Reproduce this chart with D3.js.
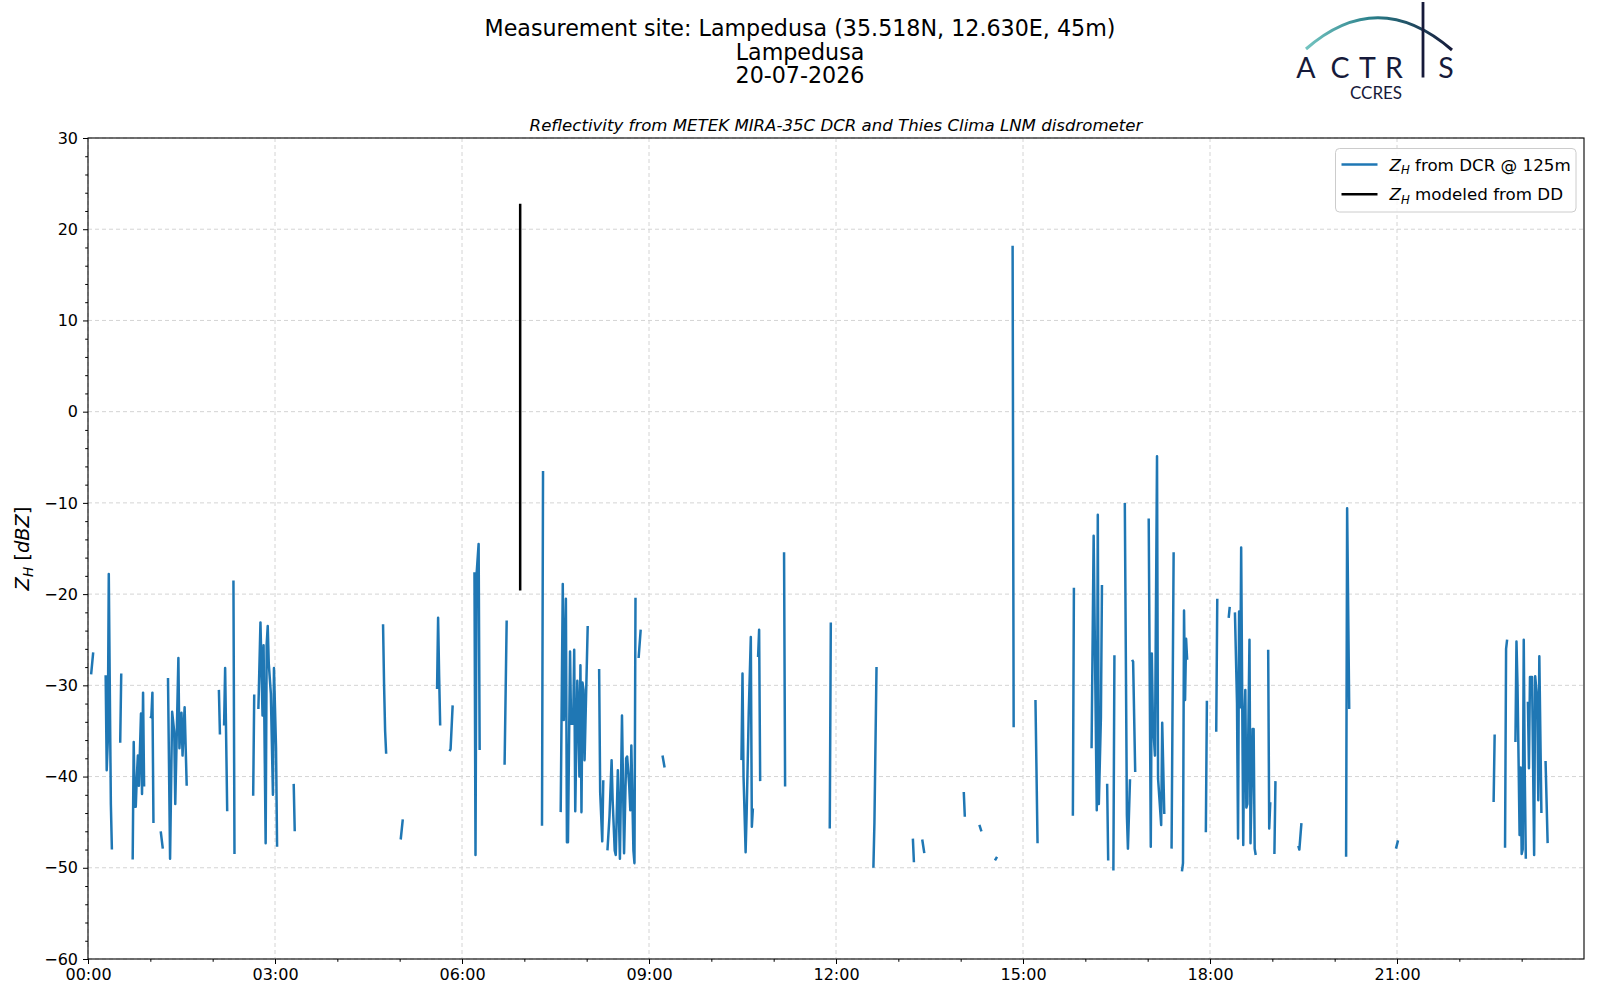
<!DOCTYPE html>
<html>
<head>
<meta charset="utf-8">
<script src="https://cdn.jsdelivr.net/npm/d3@7/dist/d3.min.js"></script>
<style>
  body { margin: 0; background: #fff; }
  svg text { font-family: "DejaVu Sans", sans-serif; fill: #000; }
  .grid line { stroke: #d4d4d4; stroke-width: 1; stroke-dasharray: 4,3; }
  .axis path, .axis line { stroke: #000; }
</style>
</head>
<body>
<div id="chart"></div>
<script>
// DCR reflectivity at 125 m: minutes after midnight, null splits the record into pieces
const dcrTime = [
  3, 5, null,
  17, 18, 19, 20, 22, 23, null,
  31, 32, null,
  43, 44, 45, 46, 47, 48, 49, 51, 52, 53, 54, null,
  60, 61, 62, 63, null,
  70, 72, null,
  77, 79, 81, 83, 84, 87, 88, 90, 91, 93, 95, null,
  126, 127, null,
  131, 132, 134, null,
  140, 141, null,
  159, 160, null,
  164, 166, 168, 169, 171, 172, 173, 174, 176, 178, 179, 181, 182, null,
  198, 199, null,
  284, 285, 286, 287, null,
  301, 303, null,
  336, 337, 338, 339, null,
  348, 349, 351, null,
  372, 373, 374, 376, 377, null,
  401, 403, null,
  437, 438, null,
  455, 457, 458, 460, 461, 462, 464, 465, 467, 468, 469, 471, 472, 473, 474, 475, 476, 477, 478, 481, null,
  492, 493, 495, 496, null,
  500, 502, 504, 505, 507, 508, 510, 512, 514, 516, 518, 519, 521, 522, 523, 525, 526, 527, null,
  530, 532, null,
  553, 555, null,
  629, 630, 631, 633, 634, 636, 638, 639, 640, null,
  645, 646, 647, null,
  670, 671, null,
  714, 715, null,
  756, 757, 759, null,
  794, 795, null,
  803, 805, null,
  843, 844, null,
  858, 860, null,
  873, 875, null,
  890, 891, null,
  912, 914, null,
  948, 949, null,
  966, 968, 971, 972, 973, 975, 976, null,
  981, 982, null,
  987, 988, null,
  998, 1000, 1001, 1003, null,
  1005, 1006, 1008, null,
  1021, 1023, 1024, 1025, 1027, 1029, 1030, 1033, 1034, 1036, null,
  1043, 1045, null,
  1053, 1054, 1055, 1056, 1057, 1058, null,
  1076, 1077, null,
  1086, 1087, null,
  1098, 1099, null,
  1104, 1106, 1107, 1108, 1109, 1110, 1112, 1113, 1114, 1115, 1116, 1118, 1119, 1120, 1121, 1122, 1123, 1124, null,
  1136, 1137, 1138, null,
  1142, 1143, null,
  1165, 1166, 1168, null,
  1211, 1212, 1214, null,
  1259, 1261, null,
  1353, 1354, null,
  1364, 1365, 1366, null,
  1374, 1375, 1376, 1377, 1378, 1379, 1380, 1381, 1382, 1383, 1384, null,
  1386, 1387, 1388, 1390, 1392, 1393, 1395, 1396, 1397, 1399, null,
  1403, 1405
];
const dcrZh = [
  -28.8, -26.4, null,
  -28.9, -39.3, -36.3, -17.8, -43.0, -48.0, null,
  -36.3, -28.7, null,
  -49.1, -36.2, -43.3, -43.3, -40.0, -37.7, -41.0, -33.1, -41.9, -30.8, -41.1, null,
  -33.6, -33.4, -30.8, -45.1, null,
  -46.0, -47.9, null,
  -29.2, -49.0, -32.9, -35.1, -43.0, -27.0, -36.9, -33.0, -37.7, -32.4, -41.0, null,
  -30.5, -35.4, null,
  -34.4, -28.1, -43.8, null,
  -18.5, -48.5, null,
  -42.1, -31.0, null,
  -32.6, -23.1, -33.3, -25.6, -47.3, -25.5, -23.5, -27.6, -30.9, -42.0, -28.1, -36.9, -47.7, null,
  -40.8, -46.0, null,
  -23.3, -30.0, -35.0, -37.5, null,
  -46.9, -44.7, null,
  -30.4, -22.6, -29.0, -34.4, null,
  -37.2, -37.0, -32.2, null,
  -17.6, -48.6, -17.9, -14.5, -37.1, null,
  -38.7, -22.9, null,
  -45.4, -6.5, null,
  -43.9, -18.9, -33.8, -20.5, -47.2, -47.2, -26.3, -34.2, -34.2, -26.1, -43.8, -29.5, -33.0, -40.0, -27.8, -43.9, -29.7, -30.5, -38.2, -23.5, null,
  -28.2, -41.7, -47.1, -40.4, null,
  -48.1, -44.3, -38.2, -42.6, -48.1, -48.6, -39.3, -49.0, -33.3, -48.4, -38.0, -37.8, -41.1, -43.7, -36.6, -48.1, -49.5, -20.4, null,
  -27.0, -23.9, null,
  -37.7, -39.0, null,
  -38.2, -28.7, -40.0, -48.3, -44.0, -33.0, -24.7, -45.5, -43.5, null,
  -26.9, -23.9, -40.5, null,
  -15.4, -41.1, null,
  -45.7, -23.1, null,
  -50.0, -45.0, -28.0, null,
  -46.8, -49.4, null,
  -46.9, -48.4, null,
  -41.7, -44.4, null,
  -45.3, -46.0, null,
  -49.2, -48.8, null,
  18.2, -34.6, null,
  -31.6, -47.3, null,
  -44.3, -19.3, null,
  -36.9, -13.6, -43.7, -11.3, -43.0, -33.5, -19.0, null,
  -40.8, -49.2, null,
  -50.3, -26.7, null,
  -10.0, -44.2, -47.9, -40.3, null,
  -27.2, -27.4, -39.5, null,
  -11.7, -47.7, -26.5, -33.8, -37.7, -4.9, -40.2, -45.3, -34.1, -44.1, null,
  -47.9, -15.4, null,
  -50.4, -49.5, -21.8, -31.6, -24.9, -27.2, null,
  -46.1, -31.7, null,
  -35.1, -20.5, null,
  -22.6, -21.4, null,
  -22.0, -32.0, -46.8, -21.9, -32.4, -14.9, -47.5, -34.0, -30.5, -43.4, -43.0, -25.0, -47.3, -41.5, -34.8, -34.8, -47.9, -48.6, null,
  -26.1, -45.7, -42.8, null,
  -48.5, -40.5, null,
  -47.6, -48.0, -45.1, null,
  -48.8, -10.6, -32.6, null,
  -47.9, -47.0, null,
  -42.8, -35.4, null,
  -47.8, -26.0, -25.0, null,
  -36.2, -25.2, -30.0, -38.0, -46.4, -39.0, -48.5, -48.0, -25.0, -40.0, -49.0, null,
  -31.8, -39.1, -29.1, -29.1, -48.6, -29.0, -31.6, -42.6, -26.8, -44.0, null,
  -38.3, -47.3
];
// reflectivity modeled from the disdrometer drop size distribution
const ddTime = [416, 416];
const ddZh = [22.8, -19.6];

const xTickMinutes = [0, 180, 360, 540, 720, 900, 1080, 1260];
const xTickLabels = ["00:00", "03:00", "06:00", "09:00", "12:00", "15:00", "18:00", "21:00"];
const yTicks = [-60, -50, -40, -30, -20, -10, 0, 10, 20, 30];
const titleLines = ["Measurement site: Lampedusa (35.518N, 12.630E, 45m)", "Lampedusa", "20-07-2026"];
const subtitle = "Reflectivity from METEK MIRA-35C DCR and Thies Clima LNM disdrometer";
const legendLabels = [" from DCR @ 125m", " modeled from DD"];
const seriesColors = ["#1f77b4", "#000000"];

const width = 1600;
const height = 1000;
const plotLeft = 88;
const plotRight = 1584;
const plotTop = 138;
const plotBottom = 959;
const lineWidth = 2.5;

const svg = d3.select("#chart")
  .append("svg")
  .attr("width", width)
  .attr("height", height);

const xScale = d3.scaleLinear()
  .domain([0, 1440])
  .range([plotLeft, plotRight]);

const yScale = d3.scaleLinear()
  .domain([-60, 30])
  .range([plotBottom, plotTop]);

// grid
const grid = svg.append("g").attr("class", "grid");

grid.selectAll("line.v")
  .data(xTickMinutes)
  .enter()
  .append("line")
  .attr("class", "v")
  .attr("x1", d => xScale(d))
  .attr("x2", d => xScale(d))
  .attr("y1", plotTop)
  .attr("y2", plotBottom);

grid.selectAll("line.h")
  .data(yTicks)
  .enter()
  .append("line")
  .attr("class", "h")
  .attr("x1", plotLeft)
  .attr("x2", plotRight)
  .attr("y1", d => yScale(d))
  .attr("y2", d => yScale(d));

svg.append("clipPath")
  .attr("id", "plot-clip")
  .append("rect")
  .attr("x", plotLeft)
  .attr("y", plotTop)
  .attr("width", plotRight - plotLeft)
  .attr("height", plotBottom - plotTop);

function seriesLine(times, values) {
  return d3.line()
    .defined(i => values[i] !== null)
    .x(i => xScale(times[i]))
    .y(i => yScale(values[i]))(d3.range(times.length));
}

svg.append("path")
  .attr("clip-path", "url(#plot-clip)")
  .attr("d", seriesLine(dcrTime, dcrZh))
  .attr("fill", "none")
  .attr("stroke", seriesColors[0])
  .attr("stroke-width", lineWidth)
  .attr("stroke-linejoin", "round");

svg.append("path")
  .attr("clip-path", "url(#plot-clip)")
  .attr("d", seriesLine(ddTime, ddZh))
  .attr("fill", "none")
  .attr("stroke", seriesColors[1])
  .attr("stroke-width", lineWidth);

// axes
const xAxis = d3.axisBottom(xScale)
  .tickValues(xTickMinutes)
  .tickFormat((d, i) => xTickLabels[i])
  .tickSize(5)
  .tickPadding(5);

svg.append("g")
  .attr("class", "axis")
  .attr("transform", `translate(0, ${plotBottom})`)
  .call(xAxis)
  .call(g => g.select(".domain").remove())
  .selectAll("text")
  .style("font-size", "16px");

const xMinor = d3.range(60, 1440, 60).filter(d => !xTickMinutes.includes(d));
svg.append("g")
  .attr("class", "axis")
  .attr("transform", `translate(0, ${plotBottom})`)
  .call(d3.axisBottom(xScale).tickValues(xMinor).tickSize(2.8).tickFormat(""))
  .call(g => g.select(".domain").remove());

const yAxis = d3.axisLeft(yScale)
  .tickValues(yTicks)
  .tickFormat(d => d < 0 ? "\u2212" + Math.abs(d) : d)
  .tickSize(5)
  .tickPadding(5);

svg.append("g")
  .attr("class", "axis")
  .attr("transform", `translate(${plotLeft}, 0)`)
  .call(yAxis)
  .call(g => g.select(".domain").remove())
  .selectAll("text")
  .style("font-size", "16px");

const yMinor = d3.range(-58, 30, 2).filter(d => !yTicks.includes(d));
svg.append("g")
  .attr("class", "axis")
  .attr("transform", `translate(${plotLeft}, 0)`)
  .call(d3.axisLeft(yScale).tickValues(yMinor).tickSize(2.8).tickFormat(""))
  .call(g => g.select(".domain").remove());

// frame
svg.append("rect")
  .attr("x", plotLeft)
  .attr("y", plotTop)
  .attr("width", plotRight - plotLeft)
  .attr("height", plotBottom - plotTop)
  .attr("fill", "none")
  .attr("stroke", "#000")
  .attr("stroke-width", 1.1);

// y label: Z_H [dBZ]
const yLabel = svg.append("text")
  .attr("transform", `translate(29, ${(plotTop + plotBottom) / 2}) rotate(-90)`)
  .attr("text-anchor", "middle")
  .style("font-size", "19.4px");
yLabel.append("tspan").style("font-style", "italic").text("Z");
yLabel.append("tspan").style("font-style", "italic").style("font-size", "13.6px").attr("dy", "4").text("H");
yLabel.append("tspan").attr("dy", "-4").text(" [");
yLabel.append("tspan").style("font-style", "italic").text("dBZ");
yLabel.append("tspan").text("]");

// titles
svg.selectAll("text.title")
  .data(titleLines)
  .enter()
  .append("text")
  .attr("class", "title")
  .attr("x", 800)
  .attr("y", (d, i) => 36 + i * 23.5)
  .attr("text-anchor", "middle")
  .style("font-size", "22.2px")
  .text(d => d);

svg.append("text")
  .attr("x", (plotLeft + plotRight) / 2)
  .attr("y", 131)
  .attr("text-anchor", "middle")
  .style("font-size", "16.6px")
  .style("font-style", "italic")
  .text(subtitle);

// legend
const legend = svg.append("g").attr("transform", "translate(1335.5, 148.5)");
legend.append("rect")
  .attr("width", 240.5)
  .attr("height", 63.5)
  .attr("rx", 4)
  .attr("fill", "#fff")
  .attr("fill-opacity", 0.8)
  .attr("stroke", "#cccccc");

legendLabels.forEach((label, i) => {
  const row = legend.append("g").attr("transform", `translate(0, ${16 + i * 29.7})`);
  row.append("line")
    .attr("x1", 6).attr("x2", 42)
    .attr("stroke", seriesColors[i])
    .attr("stroke-width", lineWidth);
  const t = row.append("text")
    .attr("x", 54)
    .attr("y", 6)
    .style("font-size", "16.7px");
  t.append("tspan").style("font-style", "italic").text("Z");
  t.append("tspan").style("font-style", "italic").style("font-size", "11.7px").attr("dy", "3.5").text("H");
  t.append("tspan").attr("dy", "-3.5").text(label);
});

// ACTRIS / CCRES logo
const defs = svg.append("defs");
const grad = defs.append("linearGradient")
  .attr("id", "arc-grad")
  .attr("x1", "0%").attr("x2", "100%").attr("y1", "0%").attr("y2", "0%");
grad.append("stop").attr("offset", "0%").attr("stop-color", "#73c4c0");
grad.append("stop").attr("offset", "45%").attr("stop-color", "#2a7f8a");
grad.append("stop").attr("offset", "100%").attr("stop-color", "#161a3a");

svg.append("path")
  .attr("d", "M1306,49 Q1378,-14 1452,50")
  .attr("fill", "none")
  .attr("stroke", "url(#arc-grad)")
  .attr("stroke-width", 3);

svg.append("line")
  .attr("x1", 1423).attr("x2", 1423)
  .attr("y1", 2).attr("y2", 77.5)
  .attr("stroke", "#161a3a")
  .attr("stroke-width", 2.8);

const logoLetters = ["A", "C", "T", "R", "S"];
const logoCenters = [1306, 1340, 1367.5, 1394, 1446];
svg.selectAll("text.logo")
  .data(logoLetters)
  .enter()
  .append("text")
  .attr("class", "logo")
  .attr("x", (d, i) => logoCenters[i])
  .attr("y", 77.5)
  .attr("text-anchor", "middle")
  .style("font-family", "Lato, 'DejaVu Sans', sans-serif")
  .style("font-weight", 400)
  .style("font-size", "28.5px")
  .style("fill", "#161a3a")
  .text(d => d);

svg.append("text")
  .attr("x", 1376)
  .attr("y", 98.5)
  .attr("text-anchor", "middle")
  .style("font-family", "Lato, 'DejaVu Sans', sans-serif")
  .style("font-size", "17px")
  .style("fill", "#161a3a")
  .text("CCRES");
</script>
</body>
</html>
